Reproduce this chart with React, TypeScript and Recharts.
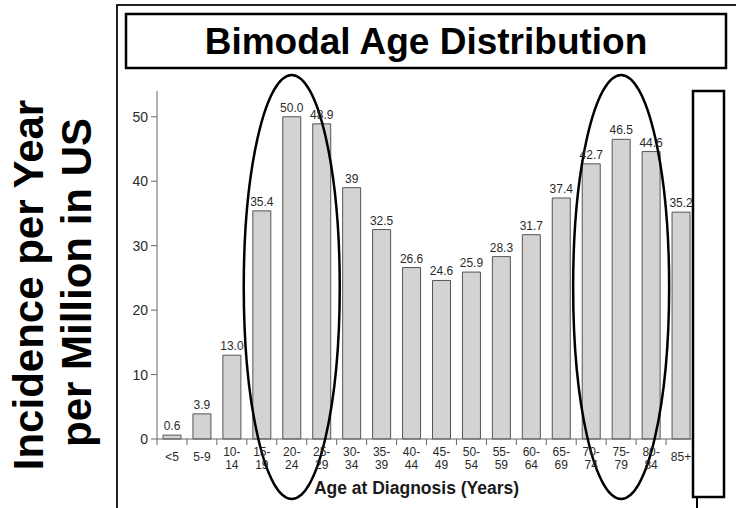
import React from 'react';
import { BarChart, Bar, XAxis, YAxis, LabelList, ReferenceDot } from 'recharts';

const ageGroups = ['<5', '5-9', '10-14', '15-19', '20-24', '25-29', '30-34', '35-39', '40-44', '45-49', '50-54', '55-59', '60-64', '65-69', '70-74', '75-79', '80-84', '85+'];
const incidence = [0.6, 3.9, 13.0, 35.4, 50.0, 48.9, 39, 32.5, 26.6, 24.6, 25.9, 28.3, 31.7, 37.4, 42.7, 46.5, 44.6, 35.2];
const valueLabels = ['0.6', '3.9', '13.0', '35.4', '50.0', '48.9', '39', '32.5', '26.6', '24.6', '25.9', '28.3', '31.7', '37.4', '42.7', '46.5', '44.6', '35.2'];
const yTicks = [0, 10, 20, 30, 40, 50];
const highlightedGroups = ['20-24', '75-79'];
const ovalCenterValue = 23.6;

const chartTitle = 'Bimodal Age Distribution';
const yTitleLines = ['Incidence per Year', 'per Million in US'];
const xTitle = 'Age at Diagnosis (Years)';

const data = ageGroups.map((g, i) => ({ group: g, value: incidence[i], label: valueLabels[i] }));

const FONT = '"Liberation Sans", Arial, Helvetica, sans-serif';

const splitLabel = (s: string): string[] => {
  const m = /^(\d+)-(\d+)$/.exec(s);
  if (m && m[1].length >= 2) return [m[1] + '-', m[2]];
  return [s];
};

const XTick = (props: any) => {
  const { x, y, payload, width, visibleTicksCount, index } = props;
  const bw = width && visibleTicksCount ? width / visibleTicksCount : 30;
  const lines = splitLabel(String(payload.value));
  const left = x - bw / 2;
  return (
    <g>
      <line x1={left} x2={left} y1={y} y2={y + 6} stroke="#666" strokeWidth={1} />
      {index === visibleTicksCount - 1 && (
        <line x1={x + bw / 2} x2={x + bw / 2} y1={y} y2={y + 6} stroke="#666" strokeWidth={1} />
      )}
      {lines.length === 2 ? (
        <g>
          <text x={x} y={y + 17} textAnchor="middle" fontSize={12} fill="#2a2a2a">{lines[0]}</text>
          <text x={x} y={y + 30} textAnchor="middle" fontSize={12} fill="#2a2a2a">{lines[1]}</text>
        </g>
      ) : (
        <text x={x} y={y + 22} textAnchor="middle" fontSize={12} fill="#2a2a2a">{lines[0]}</text>
      )}
    </g>
  );
};

const renderOval = (props: any) => (
  <ellipse cx={props.cx} cy={props.cy} rx={48} ry={212} fill="none" stroke="#000" strokeWidth={2.5} />
);

export default function App() {
  return (
    <div style={{ position: 'absolute', left: 0, top: 0, width: 736, height: 508, background: '#fff', fontFamily: FONT }}>
      <BarChart
        width={736}
        height={508}
        data={data}
        margin={{ top: 91, right: 40, bottom: 9, left: 117 }}
        barCategoryGap={0}
      >
        <XAxis
          dataKey="group"
          height={60}
          interval={0}
          tickLine={false}
          tickSize={0}
          tickMargin={0}
          stroke="#666"
          tick={<XTick />}
          label={{ value: xTitle, position: 'insideBottom', offset: 5, dx: -10, style: { fontSize: 17.5, fontWeight: 'bold', fill: '#1a1a1a' } }}
        />
        <YAxis
          width={40}
          domain={[0, 54]}
          ticks={yTicks}
          interval={0}
          tickSize={6}
          tickMargin={3}
          stroke="#666"
          tick={{ fontSize: 14, fill: '#2a2a2a' }}
        />
        <Bar dataKey="value" fill="#d3d3d3" stroke="#555" strokeWidth={1} barSize={18} isAnimationActive={false}>
          <LabelList dataKey="label" position="top" offset={5} style={{ fontSize: 12, fill: '#2a2a2a' }} />
        </Bar>
        {highlightedGroups.map((g) => (
          <ReferenceDot key={g} x={g} y={ovalCenterValue} r={0} ifOverflow="visible" shape={renderOval} />
        ))}
      </BarChart>
      <svg width={736} height={508} style={{ position: 'absolute', left: 0, top: 0, pointerEvents: 'none' }}>
        <line x1={117} x2={117} y1={5} y2={508} stroke="#222" strokeWidth={2} />
        <line x1={116} x2={736} y1={5} y2={5} stroke="#222" strokeWidth={2} />
        <rect x={126} y={14} width={600} height={54} fill="none" stroke="#000" strokeWidth={2.5} />
        <text x={426} y={54} textAnchor="middle" fontSize={37} fontWeight="bold" fill="#000" fontFamily={FONT}>{chartTitle}</text>
        <text transform="translate(43,285) rotate(-90)" textAnchor="middle" fontSize={42} fontWeight="bold" fill="#000" fontFamily={FONT}>{yTitleLines[0]}</text>
        <text transform="translate(91,282.5) rotate(-90)" textAnchor="middle" fontSize={42} fontWeight="bold" fill="#000" fontFamily={FONT}>{yTitleLines[1]}</text>
        <rect x={693} y={91} width={31} height={406} fill="#fff" stroke="#000" strokeWidth={2.5} />
        <line x1={697} x2={697} y1={497} y2={508} stroke="#000" strokeWidth={2} />
      </svg>
    </div>
  );
}
